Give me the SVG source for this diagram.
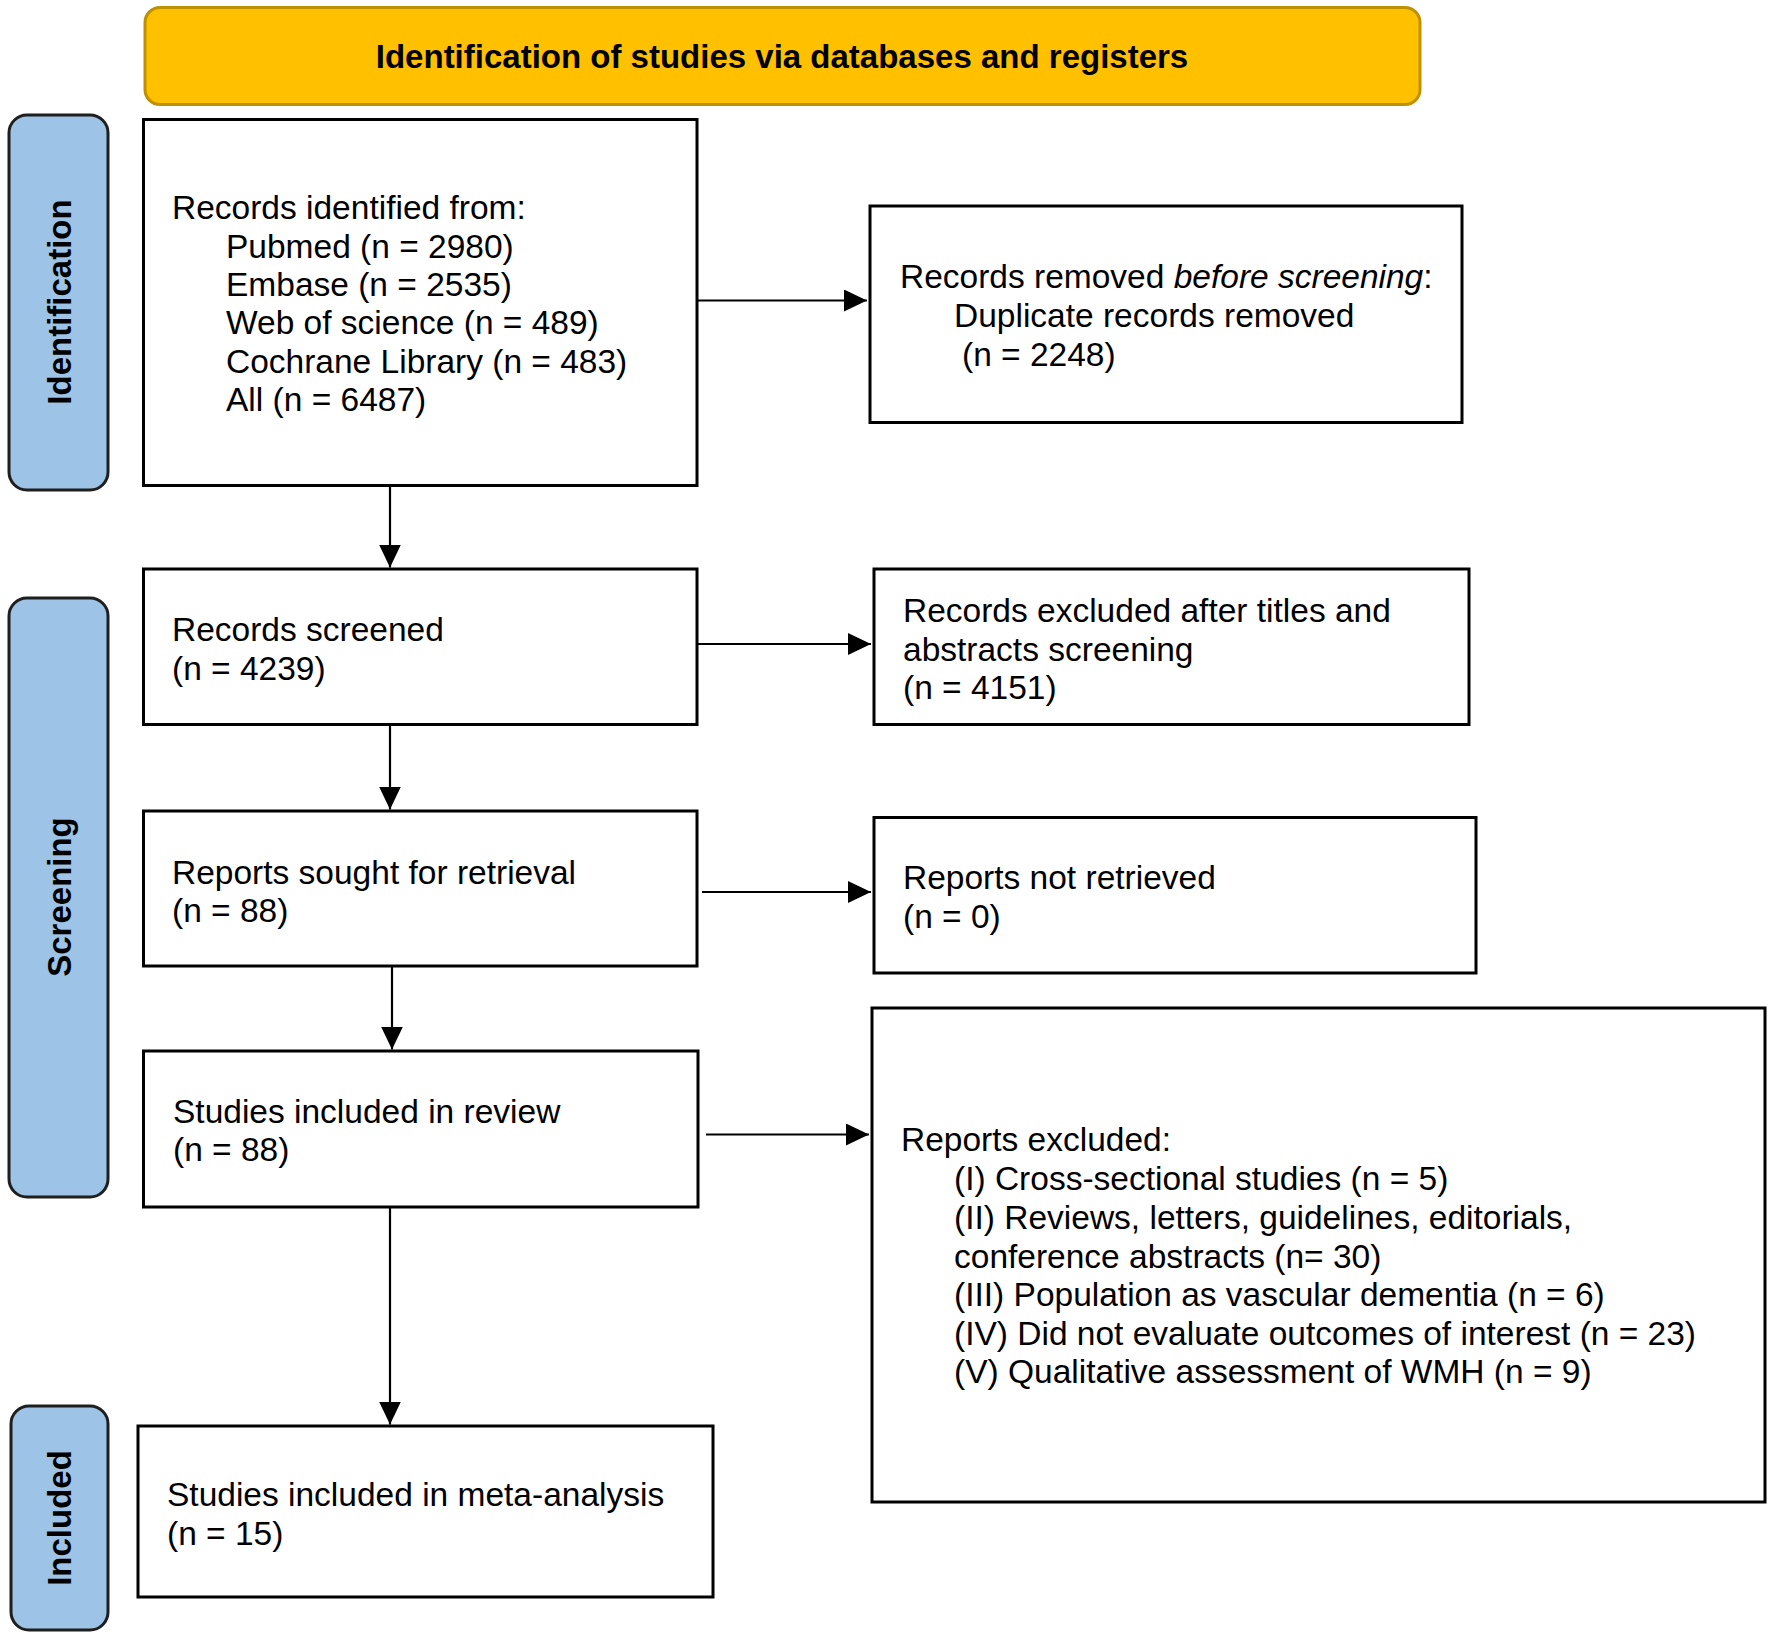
<svg xmlns="http://www.w3.org/2000/svg" width="1772" height="1637" viewBox="0 0 1772 1637">
<defs>
<style>
.box{fill:#ffffff;stroke:#000000;stroke-width:3}
.side{fill:#9DC3E6;stroke:#1f1f1f;stroke-width:3}
.hdr{fill:#FFC000;stroke:#BF9000;stroke-width:3}
.t{font-family:"Liberation Sans",Arial,sans-serif;font-size:33.5px;fill:#000000}
.b{font-family:"Liberation Sans",Arial,sans-serif;font-size:33px;font-weight:bold;fill:#000000}
.c{fill:none;stroke:#000000;stroke-width:2.2}
</style>
<marker id="ah" markerUnits="userSpaceOnUse" markerWidth="24" markerHeight="24" refX="23" refY="11" orient="auto">
<path d="M0,0 L23,11 L0,22 Z" fill="#000000"/>
</marker>
</defs>
<rect width="1772" height="1637" fill="#ffffff"/>

<g id="header">
<rect class="hdr" x="145" y="7.5" width="1275" height="97" rx="15" ry="15"/>
<text class="b" x="782" y="68" text-anchor="middle">Identification of studies via databases and registers</text>
</g>

<g id="side-identification">
<rect class="side" x="9" y="115" width="99" height="375" rx="18" ry="18"/>
<text class="b" transform="translate(71,302) rotate(-90)" text-anchor="middle">Identification</text>
</g>
<g id="side-screening">
<rect class="side" x="9" y="598" width="99" height="599" rx="18" ry="18"/>
<text class="b" transform="translate(71,897) rotate(-90)" text-anchor="middle">Screening</text>
</g>
<g id="side-included">
<rect class="side" x="11" y="1406" width="97" height="224" rx="18" ry="18"/>
<text class="b" transform="translate(71,1518) rotate(-90)" text-anchor="middle">Included</text>
</g>

<g id="node-identified">
<rect class="box" x="143.5" y="119.5" width="553.5" height="366"/>
<text class="t" x="172" y="219">Records identified from:</text>
<text class="t" x="226" y="257.5">Pubmed (n = 2980)</text>
<text class="t" x="226" y="296">Embase (n = 2535)</text>
<text class="t" x="226" y="334">Web of science (n = 489)</text>
<text class="t" x="226" y="372.5">Cochrane Library (n = 483)</text>
<text class="t" x="226" y="411">All (n = 6487)</text>
</g>

<g id="node-removed">
<rect class="box" x="870" y="206" width="592" height="216.5"/>
<text class="t" x="900" y="288">Records removed <tspan font-style="italic">before screening</tspan>:</text>
<text class="t" x="954" y="327">Duplicate records removed</text>
<text class="t" x="962" y="365.5">(n = 2248)</text>
</g>

<g id="node-screened">
<rect class="box" x="143.5" y="569" width="553.5" height="155.5"/>
<text class="t" x="172" y="640.5">Records screened</text>
<text class="t" x="172" y="680">(n = 4239)</text>
</g>

<g id="node-excluded-titles">
<rect class="box" x="874" y="569" width="595" height="155.5"/>
<text class="t" x="903" y="621.5">Records excluded after titles and</text>
<text class="t" x="903" y="660.5">abstracts screening</text>
<text class="t" x="903" y="698.5">(n = 4151)</text>
</g>

<g id="node-sought">
<rect class="box" x="143.5" y="811" width="553.5" height="155"/>
<text class="t" x="172" y="883.5">Reports sought for retrieval</text>
<text class="t" x="172" y="922">(n = 88)</text>
</g>

<g id="node-not-retrieved">
<rect class="box" x="874" y="817.5" width="602" height="155.5"/>
<text class="t" x="903" y="888.5">Reports not retrieved</text>
<text class="t" x="903" y="927.5">(n = 0)</text>
</g>

<g id="node-review">
<rect class="box" x="143.5" y="1051" width="554.5" height="156"/>
<text class="t" x="173" y="1122.5">Studies included in review</text>
<text class="t" x="173" y="1161">(n = 88)</text>
</g>

<g id="node-reports-excluded">
<rect class="box" x="872" y="1008" width="893" height="494"/>
<text class="t" x="901" y="1150.5">Reports excluded:</text>
<text class="t" x="954" y="1189.5">(I) Cross-sectional studies (n = 5)</text>
<text class="t" x="954" y="1228.5">(II) Reviews, letters, guidelines, editorials,</text>
<text class="t" x="954" y="1267.5">conference abstracts (n= 30)</text>
<text class="t" x="954" y="1305.5">(III) Population as vascular dementia (n = 6)</text>
<text class="t" x="954" y="1344.5">(IV) Did not evaluate outcomes of interest (n = 23)</text>
<text class="t" x="954" y="1382.5">(V) Qualitative assessment of WMH (n = 9)</text>
</g>

<g id="node-meta">
<rect class="box" x="138" y="1426" width="575" height="171"/>
<text class="t" x="167" y="1505.5">Studies included in meta-analysis</text>
<text class="t" x="167" y="1544.5">(n = 15)</text>
</g>

<g id="connectors">
<line class="c" x1="697" y1="300.5" x2="867" y2="300.5" marker-end="url(#ah)"/>
<line class="c" x1="390" y1="485.5" x2="390" y2="567.5" marker-end="url(#ah)"/>
<line class="c" x1="697" y1="644" x2="871" y2="644" marker-end="url(#ah)"/>
<line class="c" x1="390" y1="724.5" x2="390" y2="809.5" marker-end="url(#ah)"/>
<line class="c" x1="702" y1="892" x2="871" y2="892" marker-end="url(#ah)"/>
<line class="c" x1="392" y1="966" x2="392" y2="1049.5" marker-end="url(#ah)"/>
<line class="c" x1="706" y1="1134.5" x2="869" y2="1134.5" marker-end="url(#ah)"/>
<line class="c" x1="390" y1="1207" x2="390" y2="1424.5" marker-end="url(#ah)"/>
</g>
</svg>
